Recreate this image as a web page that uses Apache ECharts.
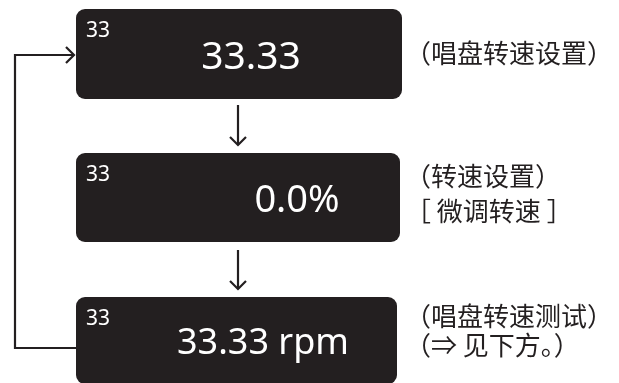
<!DOCTYPE html>
<html>
<head>
<meta charset="utf-8">
<script src="https://cdn.jsdelivr.net/npm/echarts@6/dist/echarts.min.js"></script>
<style>
  html, body { margin: 0; padding: 0; background: #fff; }
  #main { width: 619px; height: 383px; }
</style>
</head>
<body>
<div id="main"></div>
<script>
// 显示屏内容
const boxTags = ['33', '33', '33'];
const boxReadouts = ['33.33', '0.0%', '33.33 rpm'];
const boxNotes = [
  ['（唱盘转速设置）'],
  ['（转速设置）', '［ 微调转速 ］'],
  ['（唱盘转速测试）', '（⇒ 见下方。）'],
];

// 布局（隐藏坐标轴上的像素坐标）
const boxRects = [[76, 9, 402, 99], [76, 153, 400, 242], [76, 297, 397, 384]];
const readoutPos = [[251, 58], [297, 201], [263, 344]];
const readoutSize = [39, 38, 36];
const noteRows = [[53], [176, 211], [316, 345]];
const noteX = 405;
const flowPaths = [
  [[238, 105], [238, 145]],
  [[238, 250], [238, 289]],
  [[76, 348], [15, 348], [15, 55], [74, 55]],
];

const INK = '#231f20';
const chart = echarts.init(document.getElementById('main'));

function toPx(api, p) {
  return api.coord(p);
}

const option = {
  animation: false,
  grid: { left: 0, right: 0, top: 0, bottom: 0 },
  xAxis: { type: 'value', min: 0, max: 619, show: false },
  yAxis: { type: 'value', min: 0, max: 383, inverse: true, show: false },
  series: [
    {
      // 显示屏方框
      type: 'custom',
      data: boxReadouts.map((_, i) => [i]),
      renderItem(params, api) {
        const i = api.value(0);
        const r = boxRects[i];
        const p0 = toPx(api, [r[0], r[1]]);
        const p1 = toPx(api, [r[2], r[3]]);
        const tag = toPx(api, [r[0] + 10, r[1] + 22]);
        const rd = toPx(api, readoutPos[i]);
        const children = [
          {
            type: 'rect',
            shape: { x: p0[0], y: p0[1], width: p1[0] - p0[0], height: p1[1] - p0[1], r: 9 },
            style: { fill: INK },
          },
          {
            type: 'text',
            x: tag[0],
            y: tag[1],
            style: {
              text: boxTags[i], fill: '#fff', fontSize: 21, fontFamily: 'Noto Sans',
              align: 'left', verticalAlign: 'middle',
            },
          },
          {
            type: 'text',
            x: rd[0],
            y: rd[1],
            style: {
              text: boxReadouts[i], fill: '#fff', fontSize: readoutSize[i], fontFamily: 'Noto Sans',
              align: 'center', verticalAlign: 'middle',
            },
          },
        ];
        boxNotes[i].forEach((line, k) => {
          const np = toPx(api, [noteX, noteRows[i][k]]);
          children.push({
            type: 'text',
            x: np[0],
            y: np[1],
            style: {
              text: line, fill: INK, fontSize: 26, fontFamily: 'Noto Sans CJK SC',
              align: 'left', verticalAlign: 'middle',
            },
          });
        });
        return { type: 'group', children };
      },
    },
    {
      // 流程箭头
      type: 'custom',
      data: flowPaths.map((_, i) => [i]),
      renderItem(params, api) {
        const pts = flowPaths[api.value(0)].map((p) => toPx(api, p));
        const a = pts[pts.length - 2];
        const b = pts[pts.length - 1];
        const len = Math.hypot(b[0] - a[0], b[1] - a[1]);
        const ux = (b[0] - a[0]) / len;
        const uy = (b[1] - a[1]) / len;
        const h = 8;
        const head = [
          [b[0] - ux * h - uy * h, b[1] - uy * h + ux * h],
          b,
          [b[0] - ux * h + uy * h, b[1] - uy * h - ux * h],
        ];
        const lineStyle = { stroke: INK, lineWidth: 2.2, fill: null };
        return {
          type: 'group',
          children: [
            { type: 'polyline', shape: { points: pts }, style: lineStyle },
            { type: 'polyline', shape: { points: head }, style: lineStyle },
          ],
        };
      },
    },
  ],
};

chart.setOption(option);
</script>
</body>
</html>
